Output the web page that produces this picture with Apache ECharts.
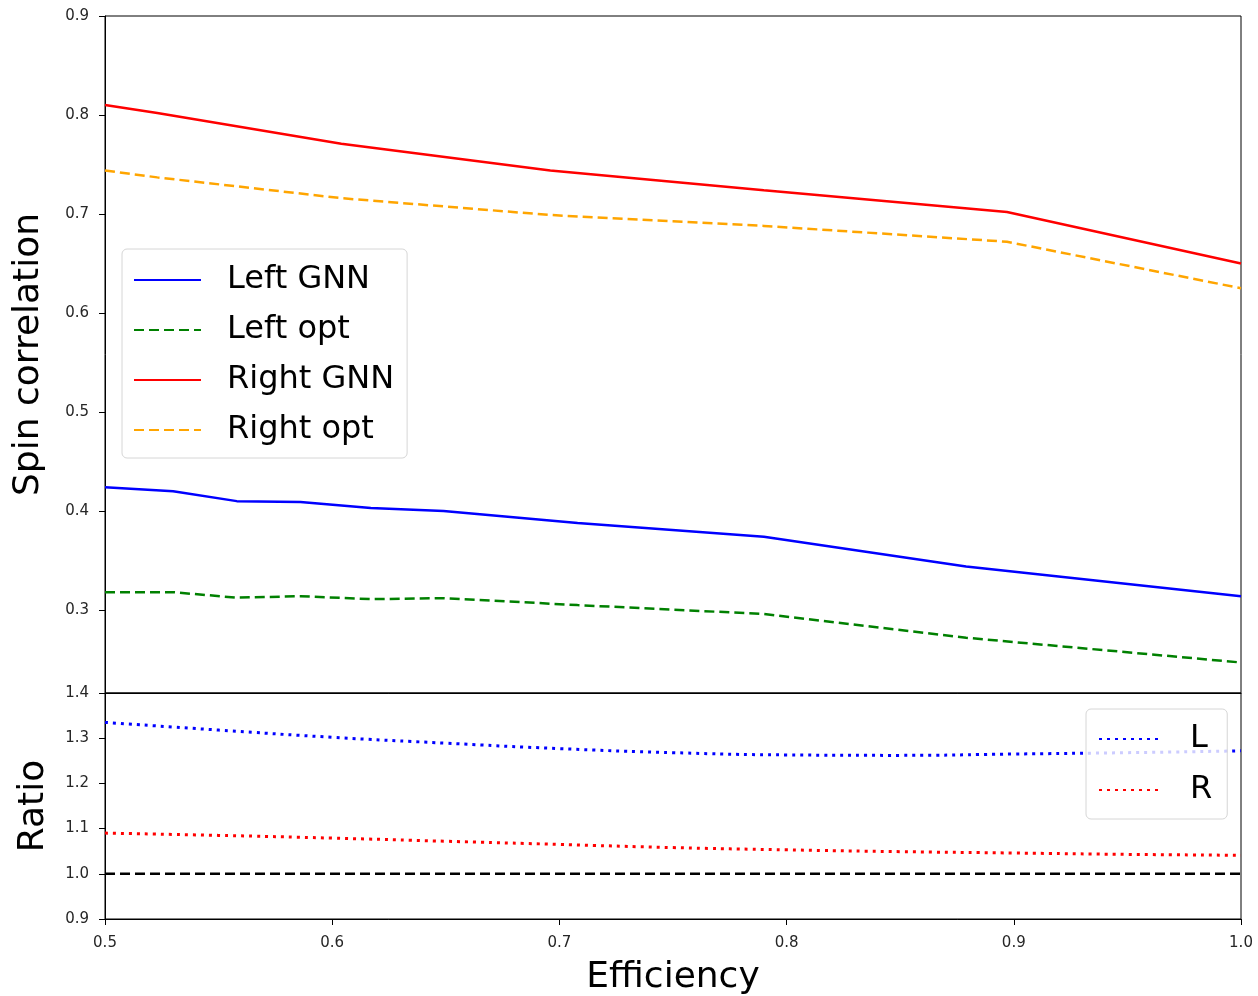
<!DOCTYPE html>
<html>
<head>
<meta charset="utf-8">
<script src="https://cdn.jsdelivr.net/npm/echarts@6/dist/echarts.min.js"></script>
<style>
	html, body { margin: 0; padding: 0; background: #fff; }
	#main { width: 1258px; height: 996px; }
</style>
</head>
<body>
<div id="main"></div>
<script>
	// efficiency points for the left / right samples
	var leftEff = [0.5, 0.53, 0.558, 0.586, 0.617, 0.649, 0.708, 0.79, 0.879, 1.0];
	var leftGnn = [0.424, 0.420, 0.410, 0.409, 0.403, 0.400, 0.388, 0.374, 0.344, 0.314];
	var leftOpt = [0.318, 0.318, 0.3125, 0.314, 0.311, 0.312, 0.305, 0.296, 0.272, 0.247];

	var rightEff = [0.5, 0.523, 0.604, 0.696, 0.79, 0.897, 1.0];
	var rightGnn = [0.810, 0.802, 0.771, 0.744, 0.724, 0.702, 0.650];
	var rightOpt = [0.744, 0.737, 0.716, 0.699, 0.688, 0.672, 0.625];

	// ratio panel
	var ratioEff = [0.5, 0.55, 0.6, 0.65, 0.7, 0.75, 0.8, 0.85, 0.9, 0.95, 1.0];
	var ratioL = [1.335, 1.318, 1.302, 1.289, 1.277, 1.268, 1.263, 1.262, 1.265, 1.268, 1.272];
	var ratioR = [1.090, 1.085, 1.079, 1.072, 1.065, 1.058, 1.053, 1.049, 1.046, 1.043, 1.041];
	var refLine = [[0.5, 1.0], [1.0, 1.0]];

	var topTicks = [0.3, 0.4, 0.5, 0.6, 0.7, 0.8, 0.9];
	var bottomTicks = [0.9, 1.0, 1.1, 1.2, 1.3, 1.4];

	function pairs(xs, ys) {
		return xs.map(function (x, i) { return [x, ys[i]]; });
	}

	var font = 'DejaVu Sans';
	var tickLabel = { color: '#262626', fontSize: 15, fontFamily: font };
	var nameStyle = { fontSize: 36, fontFamily: font, color: '#000' };

	var myChart = echarts.init(document.getElementById('main'));
	var option = {
		animation: false,
		backgroundColor: '#fff',
		grid: [
			{ left: 105, right: 17, top: 16, height: 677, show: true, borderColor: '#000', borderWidth: 1, outerBoundsMode: 'none' },
			{ left: 105, right: 17, top: 693, height: 226, show: true, borderColor: '#000', borderWidth: 1, outerBoundsMode: 'none' }
		],
		legend: [
			{
				data: ['Left GNN', 'Left opt', 'Right GNN', 'Right opt'],
				orient: 'vertical',
				left: 122,
				top: 249,
				itemWidth: 67,
				itemHeight: 14,
				itemGap: 18,
				padding: [15, 13, 12, 11],
				itemStyle: { opacity: 0 },
				backgroundColor: 'rgba(255,255,255,0.8)',
				borderColor: '#d6d6d6',
				borderWidth: 1,
				borderRadius: 5,
				textStyle: { fontSize: 32, fontFamily: font, color: '#000', lineHeight: 30, padding: [0, 0, 0, 21] }
			},
			{
				data: ['L', 'R'],
				orient: 'vertical',
				left: 1086,
				top: 709,
				itemWidth: 60,
				itemHeight: 14,
				itemGap: 19,
				padding: [14, 15, 13, 12],
				itemStyle: { opacity: 0 },
				backgroundColor: 'rgba(255,255,255,0.8)',
				borderColor: '#d6d6d6',
				borderWidth: 1,
				borderRadius: 5,
				textStyle: { fontSize: 32, fontFamily: font, color: '#000', lineHeight: 30, padding: [0, 0, 0, 26] }
			}
		],
		xAxis: [
			{
				type: 'value', gridIndex: 0, min: 0.5, max: 1.0, interval: 0.1,
				axisLine: { lineStyle: { color: '#000' } },
				axisTick: { show: false },
				axisLabel: { show: false },
				splitLine: { show: false }
			},
			{
				type: 'value', gridIndex: 1, min: 0.5, max: 1.0, interval: 0.1,
				name: 'Efficiency', nameLocation: 'middle', nameGap: 41,
				nameTextStyle: nameStyle,
				axisLine: { lineStyle: { color: '#000' } },
				axisTick: { length: 6, lineStyle: { color: '#000' } },
				axisLabel: Object.assign({ margin: 17, formatter: function (v) { return v.toFixed(1); } }, tickLabel),
				splitLine: { show: false }
			}
		],
		yAxis: [
			{
				type: 'value', gridIndex: 0, min: 0.2162, max: 0.9,
				name: 'Spin correlation', nameLocation: 'middle', nameGap: 58,
				nameTextStyle: nameStyle,
				axisLine: { show: true, lineStyle: { color: '#000' } },
				axisTick: { show: true, length: 6, customValues: topTicks, lineStyle: { color: '#000' } },
				axisLabel: Object.assign({ margin: 16, customValues: topTicks, formatter: function (v) { return v.toFixed(1); } }, tickLabel),
				splitLine: { show: false }
			},
			{
				type: 'value', gridIndex: 1, min: 0.9, max: 1.4, interval: 0.1,
				name: 'Ratio', nameLocation: 'middle', nameGap: 53,
				nameTextStyle: nameStyle,
				axisLine: { show: true, lineStyle: { color: '#000' } },
				axisTick: { show: true, length: 6, lineStyle: { color: '#000' } },
				axisLabel: Object.assign({ margin: 16, customValues: bottomTicks, formatter: function (v) { return v.toFixed(1); } }, tickLabel),
				splitLine: { show: false }
			}
		],
		series: [
			{
				name: 'Left GNN', type: 'line', xAxisIndex: 0, yAxisIndex: 0, symbol: 'none',
				color: '#0000ff', lineStyle: { width: 2.5, color: '#0000ff' },
				data: pairs(leftEff, leftGnn)
			},
			{
				name: 'Left opt', type: 'line', xAxisIndex: 0, yAxisIndex: 0, symbol: 'none',
				color: '#008000', lineStyle: { width: 2.5, color: '#008000', type: [10, 5] },
				data: pairs(leftEff, leftOpt)
			},
			{
				name: 'Right GNN', type: 'line', xAxisIndex: 0, yAxisIndex: 0, symbol: 'none',
				color: '#ff0000', lineStyle: { width: 2.5, color: '#ff0000' },
				data: pairs(rightEff, rightGnn)
			},
			{
				name: 'Right opt', type: 'line', xAxisIndex: 0, yAxisIndex: 0, symbol: 'none',
				color: '#ffa500', lineStyle: { width: 2.5, color: '#ffa500', type: [10, 5] },
				data: pairs(rightEff, rightOpt)
			},
			{
				name: 'L', type: 'line', xAxisIndex: 1, yAxisIndex: 1, symbol: 'none', smooth: true,
				color: '#0000ff', lineStyle: { width: 3, color: '#0000ff', type: [3, 5] },
				data: pairs(ratioEff, ratioL)
			},
			{
				name: 'R', type: 'line', xAxisIndex: 1, yAxisIndex: 1, symbol: 'none', smooth: true,
				color: '#ff0000', lineStyle: { width: 3, color: '#ff0000', type: [3, 5] },
				data: pairs(ratioEff, ratioR)
			},
			{
				name: 'ref', type: 'line', xAxisIndex: 1, yAxisIndex: 1, symbol: 'none',
				color: '#000', lineStyle: { width: 2.5, color: '#000', type: [10, 5] },
				data: refLine
			}
		]
	};

	myChart.setOption(option);
</script>
</body>
</html>
